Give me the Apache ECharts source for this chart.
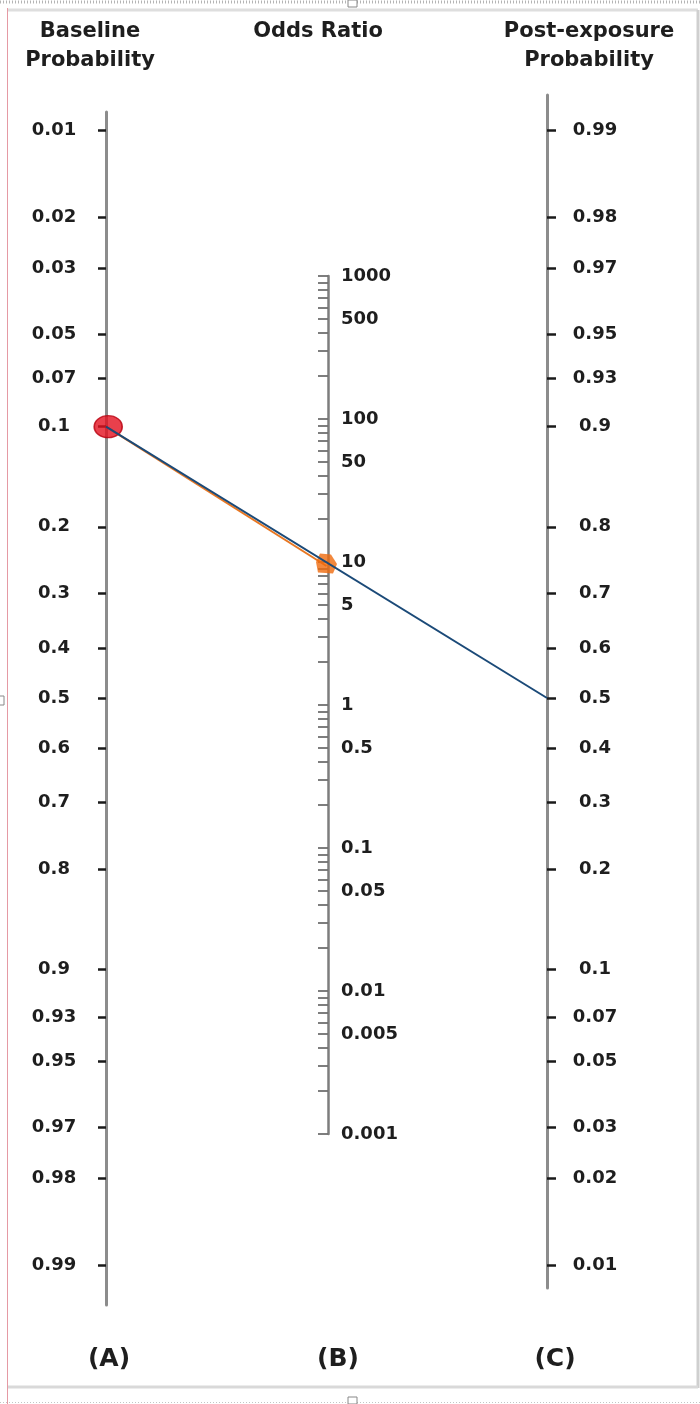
<!DOCTYPE html>
<html>
<head>
<meta charset="utf-8">
<script src="https://cdn.jsdelivr.net/npm/echarts@6/dist/echarts.min.js"></script>
<style>
html,body{margin:0;padding:0;background:#fff;}
#chart{width:700px;height:1404px;}
</style>
</head>
<body>
<div id="chart"></div>
<script>
// ---------------- data ----------------
const baselineTicks = [0.01, 0.02, 0.03, 0.05, 0.07, 0.1, 0.2, 0.3, 0.4, 0.5, 0.6, 0.7, 0.8, 0.9, 0.93, 0.95, 0.97, 0.98, 0.99];
const postTicks = [0.99, 0.98, 0.97, 0.95, 0.93, 0.9, 0.8, 0.7, 0.6, 0.5, 0.4, 0.3, 0.2, 0.1, 0.07, 0.05, 0.03, 0.02, 0.01];
const oddsLabels = [1000, 500, 100, 50, 10, 5, 1, 0.5, 0.1, 0.05, 0.01, 0.005, 0.001];
const oddsTickMultipliers = [1, 2, 3, 4, 5, 6, 7, 8, 9];
const oddsTickDecades = [-3, -2, -1, 0, 1, 2];
const oddsTickTop = [1000];
const columnTitles = ['Baseline\nProbability', 'Odds Ratio', 'Post-exposure\nProbability'];
const columnLetters = ['(A)', '(B)', '(C)'];
const baselineProb = 0.1;   // red mark on A
const oddsRatio = 9;        // orange mark on B
const postProb = 0.5;       // end on C

// ---------------- helpers ----------------
const logit = p => Math.log(p / (1 - p));
const FONT = 'DejaVu Sans';
const TXT = '#1e1e1e';

// layout (pixels)
const UNIT = 123.5;      // px per logit unit
const MID = 698;         // y of p = 0.5 on A and C
const H = 1404, W = 700;
const xA = 106, xB = 328, xC = 547;
const aTop = 112, aBot = 1305;
const cTop = 95, cBot = 1288;
const bTop = 276, bBot = 1134;

const oddsTicks = [];
oddsTickDecades.forEach(d => oddsTickMultipliers.forEach(m => oddsTicks.push(m * Math.pow(10, d))));
oddsTickTop.forEach(v => oddsTicks.push(v));

function nearestLabel(list, fn) {
  return function (val) {
    let best = 0, bd = Infinity;
    list.forEach((p, i) => { const d = Math.abs(fn(p) - val); if (d < bd) { bd = d; best = i; } });
    return String(list[best]);
  };
}

const labelStyle = { fontFamily: FONT, fontWeight: 'bold', fontSize: 18, color: TXT };

const chart = echarts.init(document.getElementById('chart'), null, { renderer: 'canvas' });

const option = {
  backgroundColor: '#ffffff',
  animation: false,
  grid: [
    { left: xA, width: 10, top: aTop, bottom: H - aBot, outerBoundsMode: 'none' },          // A
    { left: xB, width: 10, top: bTop, bottom: H - bBot, outerBoundsMode: 'none' },          // B
    { left: xC - 10, width: 10, top: cTop, bottom: H - cBot, outerBoundsMode: 'none' },     // C
    { left: xA, right: W - xC, top: aTop, bottom: H - aBot, outerBoundsMode: 'none' }       // connecting line
  ],
  xAxis: [
    { gridIndex: 0, type: 'value', show: false, min: 0, max: 1 },
    { gridIndex: 1, type: 'value', show: false, min: 0, max: 1 },
    { gridIndex: 2, type: 'value', show: false, min: 0, max: 1 },
    { gridIndex: 3, type: 'value', show: false, min: 0, max: 2 }
  ],
  yAxis: [
    { // A: baseline probability, logit scale
      gridIndex: 0, type: 'value', position: 'left', inverse: true,
      min: (aTop - MID) / UNIT, max: (aBot - MID) / UNIT,
      splitLine: { show: false },
      axisLine: { show: true, onZero: false, lineStyle: { color: '#8c8c8c', width: 3 } },
      axisTick: { show: true, length: 8, customValues: baselineTicks.map(logit), lineStyle: { color: '#1a1a1a', width: 2.5 } },
      axisLabel: Object.assign({ show: true, margin: 52, align: 'center', customValues: baselineTicks.map(logit),
        formatter: nearestLabel(baselineTicks, logit) }, labelStyle)
    },
    { // B: odds ratio, log scale (value = log10 OR)
      gridIndex: 1, type: 'value', position: 'left',
      min: -3, max: 3,
      splitLine: { show: false },
      axisLine: { show: true, onZero: false, lineStyle: { color: '#7d7d7d', width: 2.5 } },
      axisTick: { show: true, inside: false, length: 10, customValues: oddsTicks.map(v => Math.log10(v)), lineStyle: { color: '#707070', width: 1.8 } },
      axisLabel: Object.assign({ show: true, inside: true, margin: 13, align: 'left', customValues: oddsLabels.map(v => Math.log10(v)),
        formatter: nearestLabel(oddsLabels, v => Math.log10(v)) }, labelStyle)
    },
    { // C: post-exposure probability, logit scale (reversed)
      gridIndex: 2, type: 'value', position: 'right',
      min: (MID - cBot) / UNIT, max: (MID - cTop) / UNIT,
      splitLine: { show: false },
      axisLine: { show: true, onZero: false, lineStyle: { color: '#8c8c8c', width: 3 } },
      axisTick: { show: true, length: 9, customValues: postTicks.map(logit), lineStyle: { color: '#1a1a1a', width: 2.5 } },
      axisLabel: Object.assign({ show: true, margin: 48, align: 'center', customValues: postTicks.map(logit),
        formatter: nearestLabel(postTicks, logit) }, labelStyle)
    },
    { // connecting-line grid: shares A's logit scale
      gridIndex: 3, type: 'value', show: false, inverse: true,
      min: (aTop - MID) / UNIT, max: (aBot - MID) / UNIT
    }
  ],
  series: [
    {
      type: 'line', xAxisIndex: 3, yAxisIndex: 3, z: 3, symbol: 'none',
      lineStyle: { color: '#e87722', width: 2 },
      data: [[0, logit(baselineProb)], [1, -Math.log(oddsRatio) / 2 + 0.03]]
    },
    {
      type: 'scatter', xAxisIndex: 3, yAxisIndex: 3, z: 4,
      symbol: 'path://M4,0 L15,1 L21,10 L17,19 L2,18 L0,8 Z', symbolSize: [21, 20],
      itemStyle: { color: '#ef6a0c' },
      data: [[1, -Math.log(oddsRatio) / 2 + 0.01]]
    },
    {
      type: 'scatter', xAxisIndex: 3, yAxisIndex: 3, z: 4,
      symbol: 'circle', symbolSize: [28, 22],
      itemStyle: { color: '#e3101f', borderColor: '#b8000f', borderWidth: 1.5 },
      data: [[0.01, logit(baselineProb)]]
    },
    {
      type: 'line', xAxisIndex: 3, yAxisIndex: 3, z: 5, symbol: 'none',
      lineStyle: { color: '#1b4a78', width: 2 },
      data: [[0, logit(baselineProb)], [2, -logit(postProb)]]
    }
  ],
  graphic: [
    // page frame decoration
    { type: 'line', silent: true, shape: { x1: 0, y1: 2, x2: 700, y2: 2 }, style: { stroke: '#b5b5b5', lineWidth: 3, lineDash: [1, 2] } },
    { type: 'line', silent: true, shape: { x1: 8, y1: 10, x2: 698, y2: 10 }, style: { stroke: '#dedede', lineWidth: 3 } },
    { type: 'line', silent: true, shape: { x1: 7.5, y1: 8, x2: 7.5, y2: 1404 }, style: { stroke: '#e59aa4', lineWidth: 1 } },
    { type: 'line', silent: true, shape: { x1: 698, y1: 10, x2: 698, y2: 1388 }, style: { stroke: '#cfcfcf', lineWidth: 3 } },
    { type: 'line', silent: true, shape: { x1: 8, y1: 1387, x2: 698, y2: 1387 }, style: { stroke: '#d9d9d9', lineWidth: 3 } },
    { type: 'line', silent: true, shape: { x1: 0, y1: 1402.5, x2: 700, y2: 1402.5 }, style: { stroke: '#c4c4c4', lineWidth: 1, lineDash: [1, 2] } },
    { type: 'rect', silent: true, shape: { x: 348, y: 0, width: 9, height: 7 }, style: { fill: '#fff', stroke: '#888', lineWidth: 1 } },
    { type: 'rect', silent: true, shape: { x: 348, y: 1397, width: 9, height: 7 }, style: { fill: '#fff', stroke: '#888', lineWidth: 1 } },
    { type: 'rect', silent: true, shape: { x: -4, y: 696, width: 8, height: 9 }, style: { fill: '#fff', stroke: '#888', lineWidth: 1 } },
    // column titles
    { type: 'text', silent: true, style: { x: 90, y: 46, text: columnTitles[0], align: 'center', verticalAlign: 'middle', fontFamily: FONT, fontWeight: 'bold', fontSize: 21, lineHeight: 29, fill: TXT } },
    { type: 'text', silent: true, style: { x: 318, y: 32, text: columnTitles[1], align: 'center', verticalAlign: 'middle', fontFamily: FONT, fontWeight: 'bold', fontSize: 21, lineHeight: 29, fill: TXT } },
    { type: 'text', silent: true, style: { x: 589, y: 46, text: columnTitles[2], align: 'center', verticalAlign: 'middle', fontFamily: FONT, fontWeight: 'bold', fontSize: 21, lineHeight: 29, fill: TXT } },
    // column letters
    { type: 'text', silent: true, style: { x: 109, y: 1359, text: columnLetters[0], align: 'center', verticalAlign: 'middle', fontFamily: FONT, fontWeight: 'bold', fontSize: 25, fill: TXT } },
    { type: 'text', silent: true, style: { x: 338, y: 1359, text: columnLetters[1], align: 'center', verticalAlign: 'middle', fontFamily: FONT, fontWeight: 'bold', fontSize: 25, fill: TXT } },
    { type: 'text', silent: true, style: { x: 555, y: 1359, text: columnLetters[2], align: 'center', verticalAlign: 'middle', fontFamily: FONT, fontWeight: 'bold', fontSize: 25, fill: TXT } }
  ]
};

chart.setOption(option);
</script>
</body>
</html>
